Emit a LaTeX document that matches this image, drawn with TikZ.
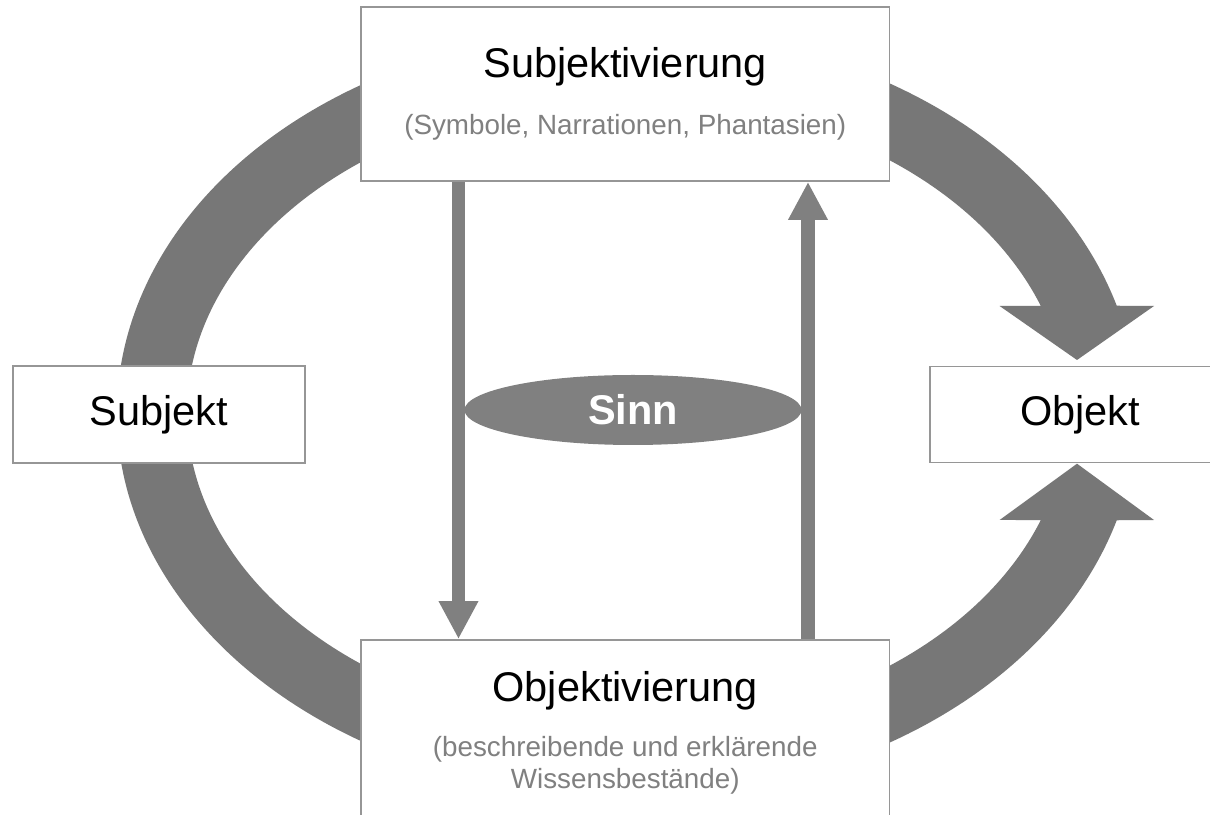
\documentclass[tikz,border=0pt]{standalone}
\usepackage{fontspec}
\setmainfont{Liberation Sans}
\usetikzlibrary{arrows.meta,shapes.geometric,positioning,calc}

\definecolor{bandgrau}{RGB}{119,119,119}
\definecolor{pfeilgrau}{RGB}{128,128,128}
\definecolor{rahmengrau}{RGB}{150,150,150}
\definecolor{textgrau}{RGB}{128,128,128}

\begin{document}
\begin{tikzpicture}[x=1pt,y=1pt,
    box/.style={draw=rahmengrau,line width=1.8pt,fill=white,inner sep=0pt,align=center},
    gross/.style={font=\fontsize{41.5}{48}\selectfont},
    klein/.style={font=\fontsize{27.8}{32.3}\selectfont},
    band/.style={fill=bandgrau},
    pfeil/.style={draw=pfeilgrau,line width=13.5pt,-{Triangle[length=38pt,width=37pt]}},
    sinn/.style={ellipse,fill=pfeilgrau,inner sep=0pt,minimum width=337pt,minimum height=70pt,
                 text=white,font=\fontsize{41.5}{48}\selectfont\bfseries}]

  \useasboundingbox (0,0) rectangle (1210,814);
  \clip (0,0) rectangle (1210,814);
  \fill[white] (0,0) rectangle (1210,814);

  % grosser Kreislauf
  \coordinate (mitte) at (627,401);
  \fill[band] (mitte) ++(120:510 and 384.5)
      arc[start angle=120,end angle=240,x radius=510,y radius=384.5]
      -- ($(mitte)+(240:440 and 315)$)
      arc[start angle=240,end angle=120,x radius=440,y radius=315] -- cycle;
  \fill[band] (mitte) ++(60:510 and 384.5)
      arc[start angle=60,end angle=16.2,x radius=510,y radius=384.5]
      -- (1154,508) -- (1077,454) -- (999.6,508)
      -- ($(mitte)+(19.86:440 and 315)$)
      arc[start angle=19.86,end angle=60,x radius=440,y radius=315] -- cycle;
  \fill[band] (mitte) ++(-60:510 and 384.5)
      arc[start angle=-60,end angle=-16.2,x radius=510,y radius=384.5]
      -- (1154,294) -- (1077,350.3) -- (999.6,294)
      -- ($(mitte)+(-19.86:440 and 315)$)
      arc[start angle=-19.86,end angle=-60,x radius=440,y radius=315] -- cycle;

  \node[box,gross,minimum width=292pt,minimum height=97pt] (subj) at (159,399.5) {Subjekt};
  \node[box,gross,minimum width=300pt,minimum height=96pt] (obj) at (1080,399.5) {Objekt};
  \node[box,klein,minimum width=528.5pt,minimum height=174pt] (subjek) at (625.25,720)
      {{\fontsize{41.5}{48}\selectfont Subjektivierung}\\[24pt]
       \textcolor{textgrau}{(Symbole, Narrationen, Phantasien)}};
  \node[box,klein,minimum width=528.5pt,minimum height=186pt] (objek) at (625.25,81)
      {{\fontsize{41.5}{48}\selectfont Objektivierung}\\[22.7pt]
       \textcolor{textgrau}{(beschreibende und erklärende}\\
       \textcolor{textgrau}{Wissensbestände)}};

  \draw[pfeil] ([xshift=-166.75pt]subjek.south) -- ([xshift=-166.75pt]objek.north);
  \draw[pfeil] ([xshift=182.75pt]objek.north) -- ([xshift=182.75pt]subjek.south);

  \node[sinn] (sinnellipse) at (633,404) {Sinn};
\end{tikzpicture}
\end{document}
